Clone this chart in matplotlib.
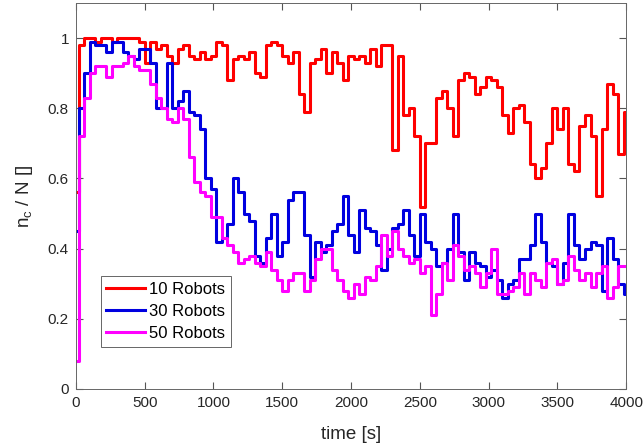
import numpy as np
import matplotlib
matplotlib.use('Agg')
import matplotlib.pyplot as plt

plt.rcParams['font.family'] = ['Liberation Sans', 'DejaVu Sans']

# time axis, one sample every 40 s
time = np.arange(0, 4001, 40)

robots10 = [0.56, 0.98, 1.0, 1.0, 0.99, 1.0, 1.0, 0.99, 1.0, 1.0,
            1.0, 1.0, 0.99, 0.93, 0.99, 0.97, 0.98, 0.95, 0.93, 0.97,
            0.98, 0.95, 0.94, 0.96, 0.94, 0.95, 0.99, 0.98, 0.88, 0.94,
            0.95, 0.94, 0.96, 0.90, 0.89, 0.98, 0.99, 0.98, 0.95, 0.93,
            0.96, 0.84, 0.79, 0.93, 0.94, 0.97, 0.90, 0.96, 0.93, 0.88,
            0.95, 0.94, 0.95, 0.93, 0.97, 0.92, 0.98, 0.98, 0.68, 0.95,
            0.78, 0.80, 0.72, 0.52, 0.70, 0.70, 0.83, 0.85, 0.80, 0.72,
            0.88, 0.90, 0.89, 0.84, 0.86, 0.89, 0.88, 0.86, 0.78, 0.73,
            0.80, 0.81, 0.76, 0.64, 0.60, 0.63, 0.70, 0.80, 0.74, 0.80,
            0.64, 0.62, 0.75, 0.78, 0.72, 0.55, 0.74, 0.87, 0.84, 0.67,
            0.79]

robots30 = [0.45, 0.80, 0.90, 0.99, 0.98, 0.98, 0.96, 0.99, 0.99, 0.96,
            0.95, 0.94, 0.97, 0.97, 0.93, 0.80, 0.80, 0.93, 0.80, 0.82,
            0.85, 0.79, 0.78, 0.74, 0.60, 0.57, 0.42, 0.43, 0.47, 0.60,
            0.56, 0.50, 0.48, 0.38, 0.36, 0.43, 0.50, 0.38, 0.42, 0.54,
            0.56, 0.56, 0.44, 0.32, 0.42, 0.39, 0.41, 0.45, 0.47, 0.55,
            0.44, 0.39, 0.51, 0.46, 0.45, 0.41, 0.34, 0.40, 0.46, 0.47,
            0.51, 0.44, 0.38, 0.50, 0.42, 0.40, 0.35, 0.36, 0.40, 0.50,
            0.39, 0.31, 0.39, 0.36, 0.35, 0.32, 0.34, 0.31, 0.26, 0.30,
            0.31, 0.37, 0.37, 0.41, 0.50, 0.42, 0.36, 0.35, 0.30, 0.36,
            0.50, 0.41, 0.37, 0.40, 0.42, 0.41, 0.28, 0.43, 0.37, 0.30,
            0.27]

robots50 = [0.08, 0.72, 0.83, 0.90, 0.92, 0.92, 0.89, 0.92, 0.92, 0.93,
            0.95, 0.92, 0.91, 0.91, 0.87, 0.83, 0.80, 0.77, 0.76, 0.80,
            0.77, 0.66, 0.59, 0.56, 0.55, 0.49, 0.49, 0.43, 0.41, 0.39,
            0.36, 0.37, 0.38, 0.36, 0.35, 0.39, 0.34, 0.31, 0.28, 0.31,
            0.33, 0.33, 0.28, 0.31, 0.37, 0.40, 0.40, 0.34, 0.31, 0.28,
            0.26, 0.30, 0.27, 0.32, 0.31, 0.35, 0.44, 0.38, 0.45, 0.40,
            0.38, 0.36, 0.37, 0.33, 0.35, 0.21, 0.27, 0.36, 0.31, 0.41,
            0.38, 0.34, 0.35, 0.33, 0.29, 0.33, 0.40, 0.27, 0.27, 0.28,
            0.29, 0.33, 0.27, 0.33, 0.31, 0.29, 0.36, 0.37, 0.30, 0.31,
            0.38, 0.34, 0.31, 0.33, 0.29, 0.33, 0.35, 0.26, 0.29, 0.35,
            0.35]

labels = ['10 Robots', '30 Robots', '50 Robots']
colors = ['#ff0000', '#0000e0', '#ff00ff']

fig = plt.figure(figsize=(6.43, 4.48), dpi=100)
ax = fig.add_axes([0.118, 0.132, 0.856, 0.861])

for y, lab, c in zip([robots10, robots30, robots50], labels, colors):
    ax.step(time, y, where='mid', color=c, linewidth=2.2, label=lab)

ax.set_xlim(0, 4000)
ax.set_ylim(0, 1.1)
ax.set_xticks(np.arange(0, 4001, 500))
ax.set_yticks([0, 0.2, 0.4, 0.6, 0.8, 1])
ax.set_yticklabels(['0', '0.2', '0.4', '0.6', '0.8', '1'])
ax.tick_params(direction='in', top=True, right=True, length=5,
               color='#555555', labelsize=11, labelcolor='#262626', pad=5)
for s in ax.spines.values():
    s.set_color('#666666')
    s.set_linewidth(0.7)

ax.set_xlabel('time [s]', fontsize=13.5, color='#262626', labelpad=12)
ax.set_ylabel('n$_\\mathregular{c}$ / N []', fontsize=13.5, color='#262626', labelpad=9)

leg = ax.legend(loc='lower left', bbox_to_anchor=(0.045, 0.109), borderaxespad=0,
                fontsize=12, fancybox=False, framealpha=1, edgecolor='#666666',
                handlelength=2.3, handletextpad=0.25, borderpad=0.35, labelspacing=0.42)
leg.get_frame().set_linewidth(0.7)

fig.savefig('out.png', dpi=100)
